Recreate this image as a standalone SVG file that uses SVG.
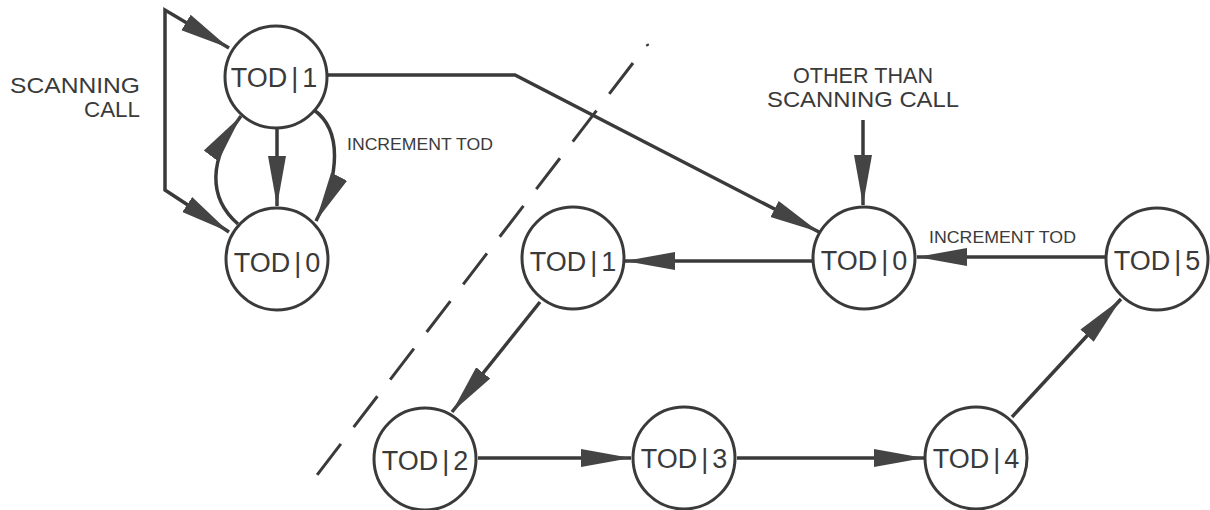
<svg xmlns="http://www.w3.org/2000/svg" width="1210" height="510" viewBox="0 0 1210 510">
  <style>
    .node circle { fill: #ffffff; stroke: #3a3a3a; stroke-width: 3; }
    .node text { font-family: "Liberation Sans", Arial, sans-serif; font-size: 27px; fill: #3a3a3a; text-anchor: middle; }
    .edge { fill: none; stroke: #3a3a3a; stroke-width: 3.5; marker-end: url(#head); }
    .label { font-family: "Liberation Sans", Arial, sans-serif; fill: #3a3a3a; }
    .big { font-size: 22px; }
    .small { font-size: 17px; }
  </style>
  <defs>
    <marker id="head" markerUnits="userSpaceOnUse" markerWidth="52" markerHeight="20" viewBox="0 -10 52 20" refX="50" refY="0" orient="auto-start-reverse">
      <path d="M0,-9 L50,0 L0,9 Z" fill="#444444"/>
    </marker>
  </defs>

  <rect width="1210" height="510" fill="#ffffff"/>

  <!-- divider between the two state groups -->
  <g id="divider" stroke="#3a3a3a" stroke-width="3" fill="none">
    <line x1="647" y1="44" x2="648" y2="46"/>
    <line x1="633" y1="63" x2="317" y2="475" stroke-dasharray="39 21"/>
  </g>

  <!-- connectors -->
  <g id="connectors">
    <!-- scanning call loop feeding both left states -->
    <path class="edge" d="M229,48 L165,10 L165,190 L229,232" style="marker-start:url(#head)"/>
    <!-- left pair internal transitions -->
    <path class="edge" d="M277,129 L277,206"/>
    <path class="edge" d="M238,224 C208,198 208,160 241,116"/>
    <path class="edge" d="M314,110 C342,130 340,175 316,221"/>
    <!-- hand-off to the right group -->
    <path class="edge" d="M328,75 L515,75 L819,232"/>
    <path class="edge" d="M863,120 L863,205"/>
    <!-- cycle -->
    <path class="edge" d="M1105,257 L917,257"/>
    <path class="edge" d="M812,261 L625,261"/>
    <path class="edge" d="M540,302 L452,412"/>
    <path class="edge" d="M478,458 L631,458"/>
    <path class="edge" d="M737,458 L924,458"/>
    <path class="edge" d="M1012,417 L1121,299"/>
  </g>

  <!-- states -->
  <g id="left-tod1" class="node"><circle cx="276" cy="77" r="51"/><text x="274" y="87">TOD<tspan dx="4">|</tspan><tspan dx="4">1</tspan></text></g>
  <g id="left-tod0" class="node"><circle cx="277" cy="259" r="51"/><text x="277" y="272">TOD<tspan dx="4">|</tspan><tspan dx="4">0</tspan></text></g>
  <g id="tod0" class="node"><circle cx="864" cy="258" r="51"/><text x="864" y="270">TOD<tspan dx="4">|</tspan><tspan dx="4">0</tspan></text></g>
  <g id="tod1" class="node"><circle cx="573" cy="258" r="51"/><text x="573" y="271">TOD<tspan dx="4">|</tspan><tspan dx="4">1</tspan></text></g>
  <g id="tod2" class="node"><circle cx="425" cy="459" r="51"/><text x="425" y="470">TOD<tspan dx="4">|</tspan><tspan dx="4">2</tspan></text></g>
  <g id="tod3" class="node"><circle cx="684" cy="458" r="51"/><text x="684" y="468">TOD<tspan dx="4">|</tspan><tspan dx="4">3</tspan></text></g>
  <g id="tod4" class="node"><circle cx="976" cy="458" r="51"/><text x="976" y="468">TOD<tspan dx="4">|</tspan><tspan dx="4">4</tspan></text></g>
  <g id="tod5" class="node"><circle cx="1157" cy="259" r="51"/><text x="1157" y="270">TOD<tspan dx="4">|</tspan><tspan dx="4">5</tspan></text></g>

  <!-- labels -->
  <g id="labels">
    <text class="label big" x="140" y="93" text-anchor="end" textLength="130" lengthAdjust="spacingAndGlyphs">SCANNING</text>
    <text class="label big" x="140" y="117" text-anchor="end" textLength="56" lengthAdjust="spacingAndGlyphs">CALL</text>
    <text class="label big" x="863" y="83" text-anchor="middle" textLength="140" lengthAdjust="spacingAndGlyphs">OTHER THAN</text>
    <text class="label big" x="863" y="107" text-anchor="middle" textLength="192" lengthAdjust="spacingAndGlyphs">SCANNING CALL</text>
    <text class="label small" x="347" y="150" textLength="146" lengthAdjust="spacingAndGlyphs">INCREMENT TOD</text>
    <text class="label small" x="929" y="243" textLength="147" lengthAdjust="spacingAndGlyphs">INCREMENT TOD</text>
  </g>
</svg>
